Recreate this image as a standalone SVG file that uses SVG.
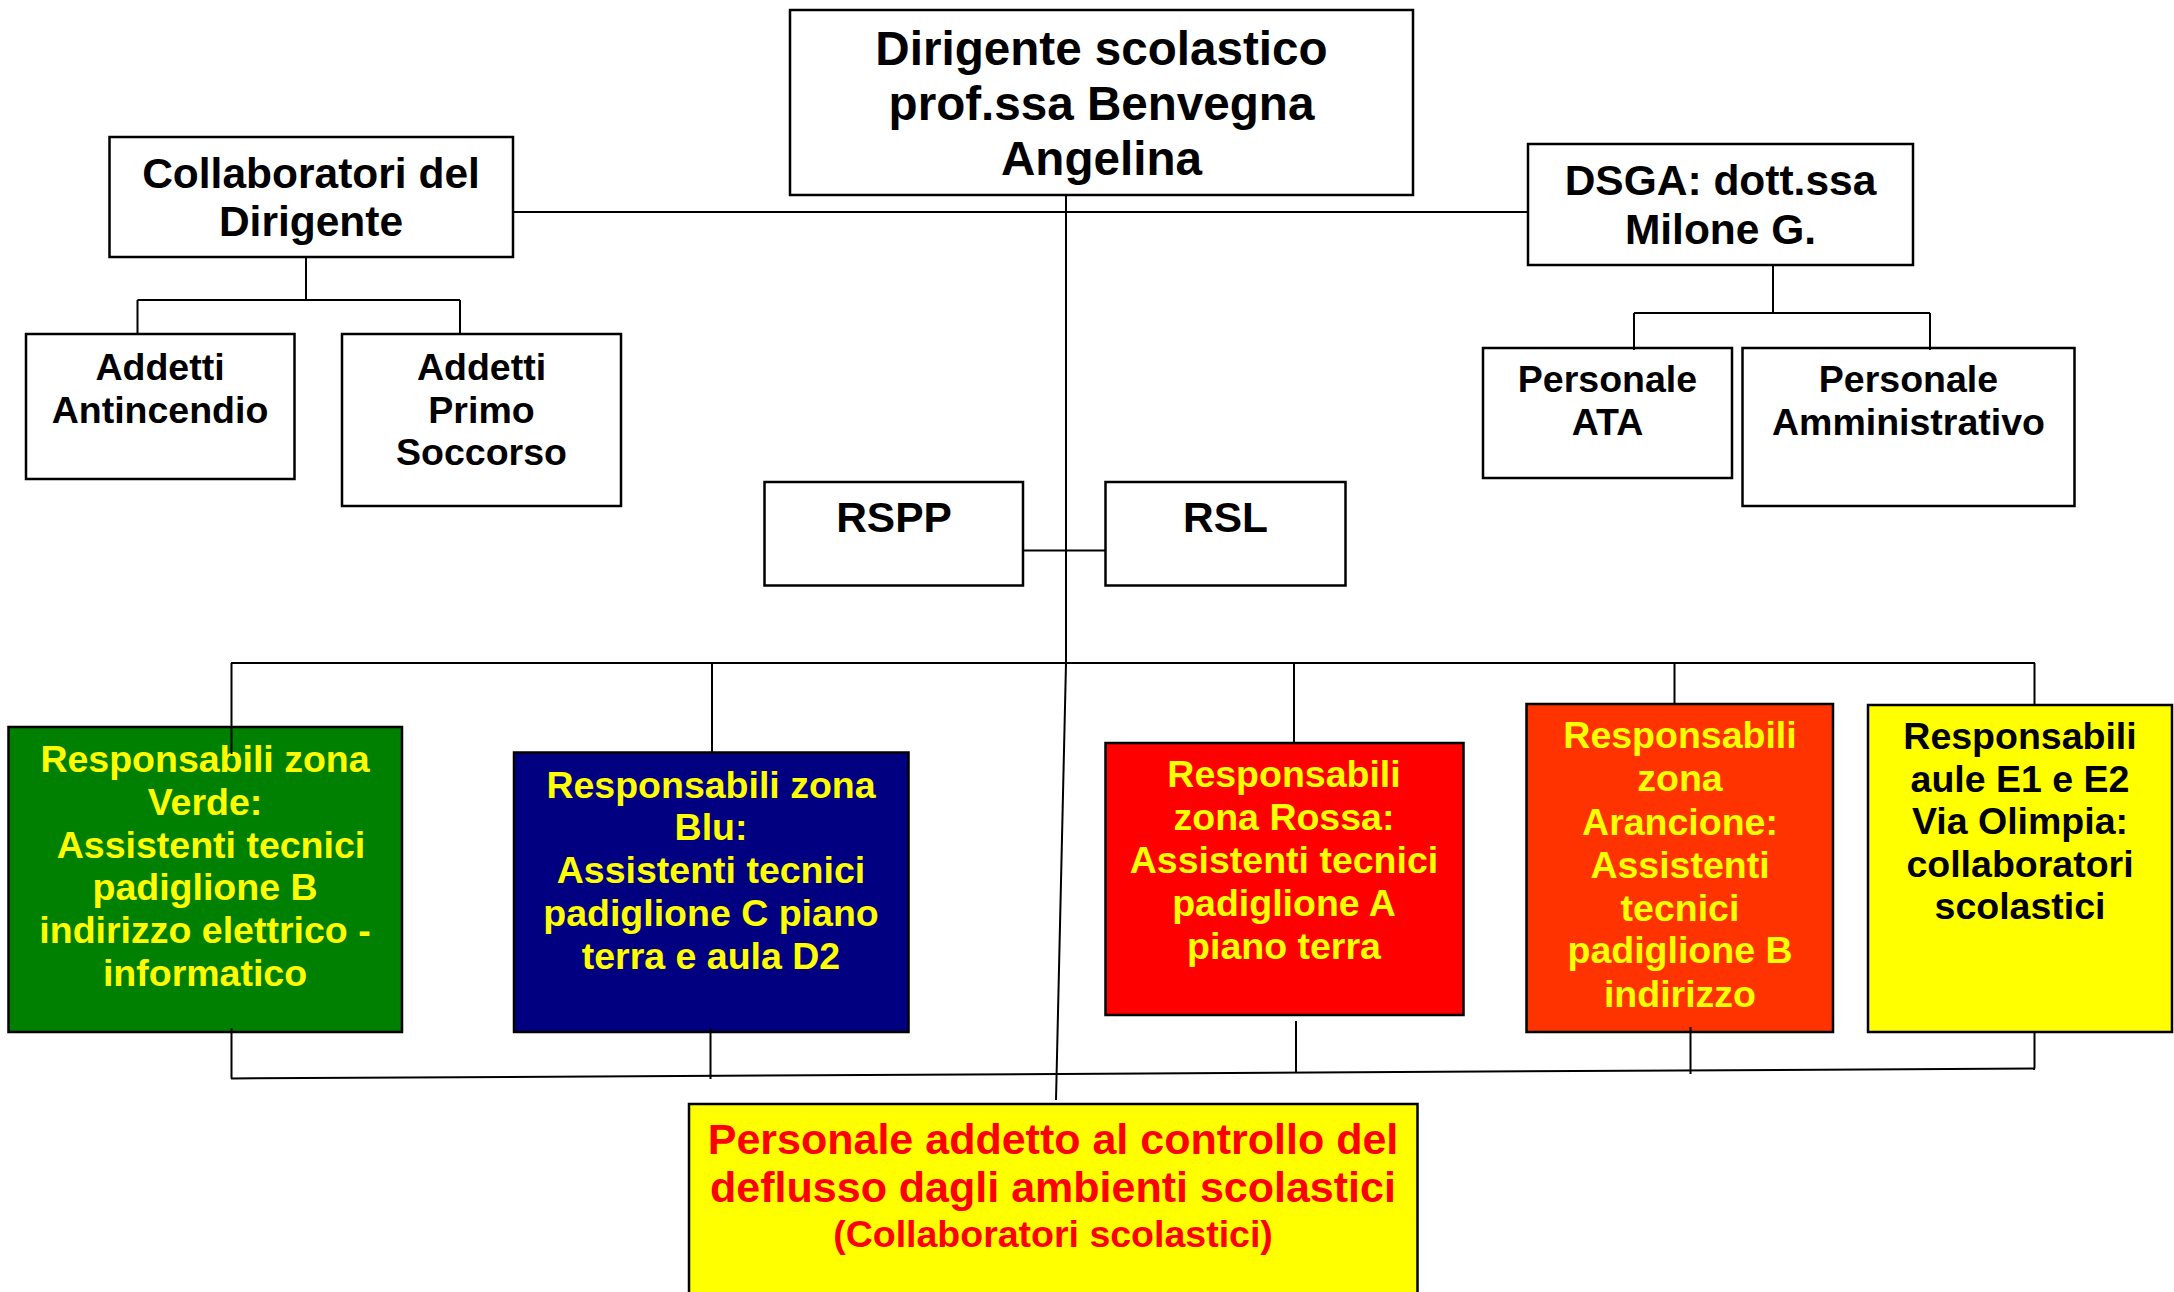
<svg xmlns="http://www.w3.org/2000/svg" width="2174" height="1292" viewBox="0 0 2174 1292">
<style>
.box{stroke:#000;stroke-width:2.5}
.w{fill:#fff}
.t{font-family:"Liberation Sans",Arial,Helvetica,sans-serif;font-weight:bold;text-anchor:middle}
.k{fill:#000}
.y{fill:#ffff00}
.r{fill:#ff0000}
.s47{font-size:47.6px}
.s42{font-size:42.5px}
.s43{font-size:43px}
.s37{font-size:37.5px}
.c{stroke:#000;stroke-width:2;fill:none}
</style>
<rect width="2174" height="1292" fill="#fff"/>
<g id="dirigente">
<rect class="box w" x="790" y="10" width="623" height="185"/>
<text class="t k s47" x="1101.5"><tspan x="1101.5" y="64.5">Dirigente scolastico</tspan><tspan x="1101.5" y="120">prof.ssa Benvegna</tspan><tspan x="1101.5" y="175">Angelina</tspan></text>
</g>
<g id="collaboratori">
<rect class="box w" x="109.5" y="137" width="403.5" height="120"/>
<text class="t k s42"><tspan x="311" y="188">Collaboratori del</tspan><tspan x="311" y="236">Dirigente</tspan></text>
</g>
<g id="dsga">
<rect class="box w" x="1528" y="144" width="385" height="121"/>
<text class="t k s42"><tspan x="1720.5" y="195">DSGA: dott.ssa</tspan><tspan x="1720.5" y="244">Milone G.</tspan></text>
</g>
<g id="antincendio">
<rect class="box w" x="26" y="334" width="268.5" height="145"/>
<text class="t k s37"><tspan x="160" y="380">Addetti</tspan><tspan x="160" y="423">Antincendio</tspan></text>
</g>
<g id="primo-soccorso">
<rect class="box w" x="342" y="334" width="279" height="172"/>
<text class="t k s37"><tspan x="481.5" y="380">Addetti</tspan><tspan x="481.5" y="423">Primo</tspan><tspan x="481.5" y="465">Soccorso</tspan></text>
</g>
<g id="ata">
<rect class="box w" x="1483" y="348" width="249" height="130"/>
<text class="t k s37"><tspan x="1607.5" y="392">Personale</tspan><tspan x="1607.5" y="435">ATA</tspan></text>
</g>
<g id="amministrativo">
<rect class="box w" x="1742.5" y="348" width="332" height="158"/>
<text class="t k s37"><tspan x="1908.5" y="392">Personale</tspan><tspan x="1908.5" y="435">Amministrativo</tspan></text>
</g>
<g id="rspp">
<rect class="box w" x="764.5" y="482" width="258.5" height="103.5"/>
<text class="t k s42" x="894" y="531.5">RSPP</text>
</g>
<g id="rsl">
<rect class="box w" x="1105.5" y="482" width="240" height="103.5"/>
<text class="t k s42" x="1225.5" y="531.5">RSL</text>
</g>
<g id="zona-verde">
<rect class="box" fill="#008000" x="8.5" y="727" width="393.5" height="305"/>
<text class="t y s37"><tspan x="205" y="772">Responsabili zona</tspan><tspan x="205" y="815">Verde:</tspan><tspan x="211" y="857.5">Assistenti tecnici</tspan><tspan x="205" y="900">padiglione B</tspan><tspan x="205" y="943">indirizzo elettrico -</tspan><tspan x="205" y="985.5">informatico</tspan></text>
</g>
<g id="zona-blu">
<rect class="box" fill="#000080" x="514" y="752.5" width="394.5" height="279.5"/>
<text class="t y s37"><tspan x="711" y="797.5">Responsabili zona</tspan><tspan x="711" y="840">Blu:</tspan><tspan x="711" y="883">Assistenti tecnici</tspan><tspan x="711" y="926">padiglione C piano</tspan><tspan x="711" y="969">terra e aula D2</tspan></text>
</g>
<g id="zona-rossa">
<rect class="box" fill="#ff0000" x="1105.5" y="743" width="358" height="272"/>
<text class="t y s37"><tspan x="1284" y="787">Responsabili</tspan><tspan x="1284" y="830">zona Rossa:</tspan><tspan x="1284" y="873">Assistenti tecnici</tspan><tspan x="1284" y="916">padiglione A</tspan><tspan x="1284" y="959">piano terra</tspan></text>
</g>
<g id="zona-arancione">
<rect class="box" fill="#ff3300" x="1526.5" y="704" width="306.5" height="328"/>
<text class="t y s37"><tspan x="1680" y="748">Responsabili</tspan><tspan x="1680" y="791">zona</tspan><tspan x="1680" y="835">Arancione:</tspan><tspan x="1680" y="878">Assistenti</tspan><tspan x="1680" y="921">tecnici</tspan><tspan x="1680" y="963">padiglione B</tspan><tspan x="1680" y="1006.5">indirizzo</tspan></text>
</g>
<g id="aule-e1-e2">
<rect class="box" fill="#ffff00" x="1868" y="705" width="304" height="327"/>
<text class="t k s37"><tspan x="2020" y="749">Responsabili</tspan><tspan x="2020" y="792">aule E1 e E2</tspan><tspan x="2020" y="834">Via Olimpia:</tspan><tspan x="2020" y="877">collaboratori</tspan><tspan x="2020" y="919">scolastici</tspan></text>
</g>
<g id="personale-deflusso">
<rect class="box" fill="#ffff00" x="689" y="1104" width="728.5" height="220"/>
<text class="t r"><tspan class="s43" x="1053" y="1154">Personale addetto al controllo del</tspan><tspan class="s43" x="1053" y="1202">deflusso dagli ambienti scolastici</tspan><tspan class="s37" x="1053" y="1246.5">(Collaboratori scolastici)</tspan></text>
</g>
<g id="connectors">
<path class="c" d="M513 212H1528"/>
<path class="c" d="M1066 195V663L1056 1100"/>
<path class="c" d="M306 257V300M137.5 300H460M137.5 300V334M460 300V334"/>
<path class="c" d="M1773 265V313M1634 313H1930M1634 313V350M1930 313V350"/>
<path class="c" d="M1023 550.5H1106"/>
<path class="c" d="M231 663H2035"/>
<path class="c" d="M231.5 663V754M712 663V752.5M1294 663V743M1674.5 663V704M2034.5 663V705"/>
<path class="c" d="M231 1078.5L2035 1068.5"/>
<path class="c" d="M231.5 1028V1078.5M710.5 1028V1079M1296 1021V1072.5M1690.5 1027V1074M2034.5 1032V1068.5"/>
</g>
</svg>
